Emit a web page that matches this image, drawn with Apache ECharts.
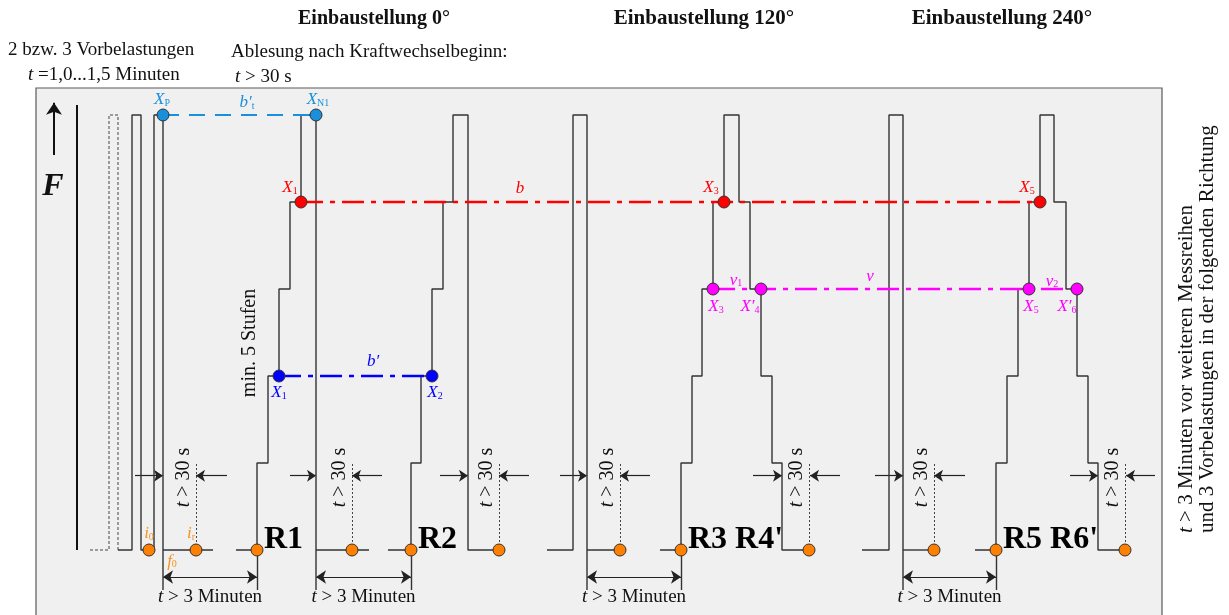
<!DOCTYPE html>
<html>
<head>
<meta charset="utf-8">
<script src="https://cdn.jsdelivr.net/npm/echarts@6/dist/echarts.min.js"></script>
<style>
  html, body { margin: 0; padding: 0; background: #fff; }
  #chart { width: 1229px; height: 615px; }
</style>
</head>
<body>
<div id="chart"></div>
<script>
const FONT = '"Liberation Serif", "Times New Roman", serif';
const LIGHTBLUE = '#1a8fdc';
const RED = '#ff0000';
const MAGENTA = '#ff00ff';
const BLUE = '#0000ff';
const ORANGE = '#ff8000';

// x = time position, y = load step (0 = unloaded, 5 = peak load)
const preloadDashed = [[90, 0], [109, 0], [109, 5], [118, 5], [118, 0]];
const preloads = [[118, 0], [132, 0], [132, 5], [141, 5], [141, 0], [154, 0], [154, 5], [163, 5], [163, -0.46]];
const pause0 = [[163, 0], [213, 0]];
const runR1 = [[236, 0], [257, 0], [257, 1], [268, 1], [268, 2], [279, 2], [279, 3], [290, 3], [290, 4], [301, 4], [301, 5], [316, 5], [316, -0.46]];
const pause1 = [[316, 0], [369, 0]];
const runR2 = [[388, 0], [411, 0], [411, 1], [421, 1], [421, 2], [432, 2], [432, 3], [443, 3], [443, 4], [453, 4], [453, 5], [468, 5], [468, 0], [499, 0]];
const preload120 = [[547, 0], [573, 0], [573, 5], [587, 5], [587, -0.46]];
const pause2 = [[587, 0], [620, 0]];
const runR3R4 = [[660, 0], [681, 0], [681, 1], [692, 1], [692, 2], [702, 2], [702, 3], [713, 3], [713, 4], [724, 4], [724, 5], [739, 5], [739, 4], [750, 4], [750, 3], [761, 3], [761, 2], [772, 2], [772, 1], [782, 1], [782, 0], [809, 0]];
const preload240 = [[862, 0], [889, 0], [889, 5], [903, 5], [903, -0.46]];
const pause3 = [[903, 0], [934, 0]];
const runR5R6 = [[975, 0], [996, 0], [996, 1], [1007, 1], [1007, 2], [1018, 2], [1018, 3], [1029, 3], [1029, 4], [1040, 4], [1040, 5], [1054, 5], [1054, 4], [1066, 4], [1066, 3], [1077, 3], [1077, 2], [1088, 2], [1088, 1], [1098, 1], [1098, 0], [1125, 0]];

// reading lines between measured points
const lineBt = [[163, 5], [316, 5]];
const lineB = [[301, 4], [1040, 4]];
const lineV = [[713, 3], [1077, 3]];
const lineBprime = [[279, 2], [432, 2]];

// measured points
const ptsLightBlue = [[163, 5], [316, 5]];
const ptsRed = [[301, 4], [724, 4], [1040, 4]];
const ptsMagenta = [[713, 3], [761, 3], [1029, 3], [1077, 3]];
const ptsBlue = [[279, 2], [432, 2]];
const ptsOrange = [[149, 0], [196, 0], [257, 0], [352, 0], [411, 0], [499, 0], [620, 0], [681, 0], [809, 0], [934, 0], [996, 0], [1125, 0]];

const namesLightBlue = ['{i|X}{s|P}', '{i|X}{s|N1}'];
const namesRed = ['{i|X}{s|1}', '{i|X}{s|3}', '{i|X}{s|5}'];
const namesMagenta = ['{i|X}{s|3}', "{i|X′}{s|4}", '{i|X}{s|5}', "{i|X′}{s|6}"];
const namesBlue = ['{i|X}{s|1}', '{i|X}{s|2}'];

// timing marks
const readMarks = [196, 352, 499, 620, 809, 934, 1125];
const wallArrows = [[135, 163], [290, 316], [440, 468], [560, 587], [753, 782], [875, 903], [1070, 1098]];
const readArrows = [[227, 196], [382, 352], [529, 499], [650, 620], [840, 810], [965, 934], [1155, 1126]];
const waitSpans = [[163, 257], [316, 411], [587, 681], [903, 996]];
const waitStarts = [257, 411, 681, 996];
const runNames = [['R1', 264], ['R2', 418], ["R3 R4'", 688], ["R5 R6'", 1003]];

const ARROW_Y = 0.854;
const DIM_Y = -0.31;
const EXT_Y = -0.46;

function rich(color, size, key) {
  return {
    i: { fontFamily: FONT, fontStyle: 'italic', fontSize: size, [key]: color },
    n: { fontFamily: FONT, fontSize: size, [key]: color },
    s: { fontFamily: FONT, fontSize: Math.round(size * 0.58), [key]: color, verticalAlign: 'bottom' },
    b: { fontFamily: FONT, fontWeight: 'bold', fontSize: size, [key]: color }
  };
}

function pathSeries(data, opts) {
  return Object.assign({
    type: 'line', data: data, symbol: 'none', silent: true, clip: false, z: 3,
    animation: false, lineStyle: { color: '#333', width: 1.4 }
  }, opts || {});
}

function dotSeries(pts, color, names, offsets) {
  const textColor = color === ORANGE ? '#f7931e' : color;
  return {
    type: 'scatter', silent: true, z: 6, animation: false, symbolSize: 12, clip: false,
    itemStyle: { color: color, borderColor: '#333', borderWidth: 1, opacity: 1 },
    data: pts.map((p, k) => ({
      value: p,
      label: names && names[k] ? {
        show: true, position: 'inside', formatter: names[k], offset: offsets[k],
        color: textColor, textBorderWidth: 0, rich: rich(textColor, 17, 'color')
      } : { show: false }
    }))
  };
}

const chart = echarts.init(document.getElementById('chart'));
const series = [];

series.push(pathSeries(preloadDashed, { lineStyle: { color: '#444', width: 1, type: [3, 2] } }));
[preloads, pause0, runR1, pause1, runR2, preload120, pause2, runR3R4, preload240, pause3, runR5R6]
  .forEach(p => series.push(pathSeries(p)));
// force axis
series.push(pathSeries([[77, 0], [77, 5.115]], { lineStyle: { color: '#111', width: 2 } }));

series.push(pathSeries(lineBt, { z: 4, lineStyle: { color: LIGHTBLUE, width: 2, type: [16, 10] } }));
series.push(pathSeries(lineB, { z: 4, lineStyle: { color: RED, width: 2.5, type: [22, 7, 5, 7] } }));
series.push(pathSeries(lineV, { z: 4, lineStyle: { color: MAGENTA, width: 2.5, type: [22, 7, 5, 7] } }));
series.push(pathSeries(lineBprime, { z: 4, lineStyle: { color: BLUE, width: 2.5, type: [22, 7, 5, 7] } }));

// arrows and dimension lines
series.push({
  type: 'lines', coordinateSystem: 'cartesian2d', silent: true, z: 3, animation: false,
  symbol: ['none', 'arrow'], symbolSize: 9,
  lineStyle: { color: '#222', width: 1.2, opacity: 1 },
  data: wallArrows.concat(readArrows).map(a => ({ coords: [[a[0], ARROW_Y], [a[1], ARROW_Y]] }))
});
series.push({
  type: 'lines', coordinateSystem: 'cartesian2d', silent: true, z: 3, animation: false,
  symbol: ['none', 'arrow'], symbolSize: [7, 12],
  lineStyle: { color: '#111', width: 2, opacity: 1 },
  data: [{ coords: [[54, 4.54], [54, 5.14]] }]
});
series.push({
  type: 'lines', coordinateSystem: 'cartesian2d', silent: true, z: 3, animation: false,
  symbol: ['arrow', 'arrow'], symbolSize: 10,
  lineStyle: { color: '#222', width: 1.2, opacity: 1 },
  data: waitSpans.map(s => ({ coords: [[s[0], DIM_Y], [s[1], DIM_Y]] }))
});
series.push({
  type: 'lines', coordinateSystem: 'cartesian2d', silent: true, z: 3, animation: false,
  lineStyle: { color: '#333', width: 1.4, opacity: 1 },
  data: waitStarts.map(x => ({ coords: [[x, 0], [x, EXT_Y]] }))
});
series.push({
  type: 'lines', coordinateSystem: 'cartesian2d', silent: true, z: 3, animation: false,
  lineStyle: { color: '#444', width: 1, type: [2, 2], opacity: 1 },
  data: readMarks.map(x => ({ coords: [[x, 0], [x, 1]] }))
});

series.push(dotSeries(ptsLightBlue, LIGHTBLUE, namesLightBlue, [[-1, -15], [2, -15]]));
series.push(dotSeries(ptsRed, RED, namesRed, [[-11, -14], [-13, -14], [-13, -14]]));
series.push(dotSeries(ptsMagenta, MAGENTA, namesMagenta, [[3, 18], [-11, 18], [2, 18], [-10, 18]]));
series.push(dotSeries(ptsBlue, BLUE, namesBlue, [[0, 17], [3, 17]]));
series.push(dotSeries(ptsOrange, ORANGE, ['{i|i}{s|0}', '{i|i}{s|r}'], [[0, -16], [-5, -16]]));

// annotations anchored in data coordinates
const notes = [
  { x: 247, y: 5.14, text: '{i|b′}{s|t}', color: LIGHTBLUE, size: 17 },
  { x: 520, y: 4.16, text: '{i|b}', color: RED, size: 17 },
  { x: 373, y: 2.17, text: '{i|b′}', color: BLUE, size: 17 },
  { x: 736, y: 3.10, text: '{i|v}{s|1}', color: MAGENTA, size: 17 },
  { x: 870, y: 3.14, text: '{i|v}', color: MAGENTA, size: 17 },
  { x: 1052, y: 3.09, text: '{i|v}{s|2}', color: MAGENTA, size: 17 },
  { x: 172, y: -0.13, text: '{i|f}{s|0}', color: '#f7931e', size: 17 }
];
runNames.forEach(r => notes.push({ x: r[1], y: 0.115, text: '{b|' + r[0] + '}', color: '#000', size: 32, align: 'left' }));
readMarks.forEach(x => notes.push({ x: x - 12, y: ARROW_Y - 0.02, text: '{i|t}{n| > 30 s}', color: '#111', size: 20, rotate: true }));
waitSpans.forEach(s => notes.push({ x: (s[0] + s[1]) / 2, y: -0.54, text: '{i|t}{n| > 3 Minuten}', color: '#111', size: 19 }));

function txt(x, y, text, size, extra, color) {
  const c = color || '#111';
  return {
    type: 'text', x: x, y: y, silent: true,
    style: Object.assign({
      text: text, fontFamily: FONT, fontSize: size, fill: c,
      textAlign: 'left', textVerticalAlign: 'middle', align: 'left', verticalAlign: 'middle',
      rich: rich(c, size, 'fill')
    }, extra || {})
  };
}

const centered = { textAlign: 'center', align: 'center' };

chart.setOption({
  backgroundColor: '#ffffff',
  animation: false,
  grid: { left: 0, right: 0, top: 0, bottom: 0 },
  xAxis: { type: 'value', min: 0, max: 1229, show: false },
  yAxis: { type: 'value', min: -65 / 87, max: 550 / 87, show: false },
  series: series
});

const graphics = [
  { type: 'rect', z: -10, silent: true, shape: { x: 36, y: 88, width: 1126, height: 560 },
    style: { fill: '#f0f0f0', stroke: '#5a5a5a', lineWidth: 1.2 } },
  txt(374, 19, 'Einbaustellung 0°', 20, Object.assign({ fontWeight: 'bold' }, centered)),
  txt(704, 19, 'Einbaustellung 120°', 21, Object.assign({ fontWeight: 'bold' }, centered)),
  txt(1002, 19, 'Einbaustellung 240°', 21, Object.assign({ fontWeight: 'bold' }, centered)),
  txt(8, 50, '2 bzw. 3 Vorbelastungen', 19),
  txt(28, 75, '{i|t}{n| =1,0...1,5 Minuten}', 19),
  txt(231, 52, 'Ablesung nach Kraftwechselbeginn:', 19),
  txt(235, 77, '{i|t}{n| > 30 s}', 19),
  txt(53, 187, 'F', 32, Object.assign({ fontWeight: 'bold', fontStyle: 'italic' }, centered)),
  Object.assign(txt(250, 343, 'min. 5 Stufen', 20, centered), { rotation: Math.PI / 2 }),
  Object.assign(txt(1186, 533, '{i|t}{n| > 3 Minuten vor weiteren Messreihen}', 21), { rotation: Math.PI / 2 }),
  Object.assign(txt(1207, 533, 'und 3 Vorbelastungen in der folgenden Richtung', 21), { rotation: Math.PI / 2 })
];
notes.forEach(n => {
  const p = chart.convertToPixel({ gridIndex: 0 }, [n.x, n.y]);
  const el = txt(p[0], p[1], n.text, n.size, n.align === 'left' ? {} : centered, n.color);
  if (n.rotate) el.rotation = Math.PI / 2;
  el.z = 20;
  graphics.push(el);
});
chart.setOption({ graphic: graphics });
</script>
</body>
</html>
